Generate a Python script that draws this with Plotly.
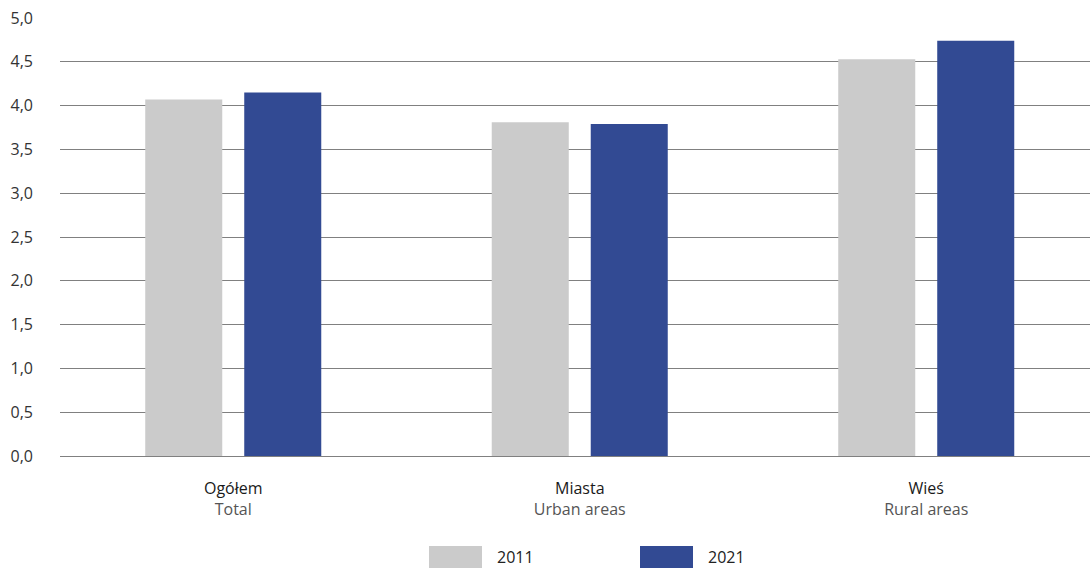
import plotly.graph_objects as go

categories_pl = ["Ogółem", "Miasta", "Wieś"]
categories_en = ["Total", "Urban areas", "Rural areas"]
values_2011 = [4.07, 3.81, 4.53]
values_2021 = [4.15, 3.79, 4.74]
series_names = ["2011", "2021"]
y_ticks = [0, 0.5, 1, 1.5, 2, 2.5, 3, 3.5, 4, 4.5, 5]
y_tick_labels = ["0,0", "0,5", "1,0", "1,5", "2,0", "2,5", "3,0", "3,5", "4,0", "4,5", "5,0"]

GREY = "#cbcbcb"
BLUE = "#324a93"
FONT = "Open Sans"

x_idx = list(range(len(categories_pl)))
tick_text = [f"<span style='color:#1a1a1a'>{a}</span><br><span style='color:#555555'>{b}</span>"
             for a, b in zip(categories_pl, categories_en)]

fig = go.Figure()
fig.add_trace(go.Bar(x=x_idx, y=values_2011, name=series_names[0], marker_color=GREY,
                     marker_line_width=0, showlegend=False))
fig.add_trace(go.Bar(x=x_idx, y=values_2021, name=series_names[1], marker_color=BLUE,
                     marker_line_width=0, showlegend=False))

fig.update_layout(
    width=1090, height=568,
    margin=dict(l=60, r=0, t=18, b=112),
    paper_bgcolor="white", plot_bgcolor="white",
    barmode="group", bargap=0.4286, bargroupgap=0.222,
    font=dict(family=FONT, size=16, color="#333333"),
    xaxis=dict(
        range=[-0.5, 2.4726], tickmode="array", tickvals=x_idx, ticktext=tick_text,
        showgrid=False, zeroline=False, showline=False, ticks="",
        ticklabelstandoff=21, tickfont=dict(size=16, family=FONT),
    ),
    yaxis=dict(
        range=[0, 5], tickmode="array", tickvals=y_ticks, ticktext=y_tick_labels,
        showgrid=True, gridcolor="#808080", gridwidth=1,
        zeroline=True, zerolinecolor="#808080", zerolinewidth=1,
        showline=False, ticks="", ticklabelstandoff=26,
        tickfont=dict(size=16, family=FONT, color="#333333"),
    ),
)

# manual legend (large swatches)
legend_items = [(series_names[0], GREY, 429, 495), (series_names[1], BLUE, 640, 706)]
def px_x(p):
    return (p - 60) / 1030
def px_y(p):
    return (456 - p) / 438
for name, col, sx, tx in legend_items:
    fig.add_shape(type="rect", xref="paper", yref="paper",
                  x0=px_x(sx), x1=px_x(sx + 53), y0=px_y(546), y1=px_y(575),
                  fillcolor=col, line_width=0)
    fig.add_annotation(xref="paper", yref="paper", x=px_x(tx), y=px_y(557),
                       text=name, showarrow=False, xanchor="left", yanchor="middle",
                       font=dict(size=16, family=FONT, color="#222222"))

fig.write_html("out.html")
